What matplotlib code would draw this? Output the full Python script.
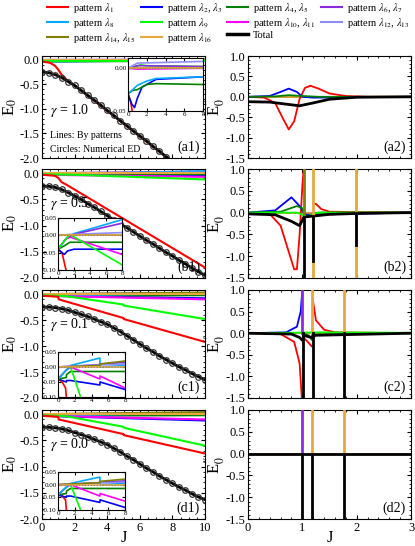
import matplotlib
matplotlib.use('Agg')
import matplotlib.pyplot as plt
import numpy as np

plt.rcParams['font.family'] = ['Liberation Serif', 'DejaVu Serif']
plt.rcParams['mathtext.fontset'] = 'stix'
plt.rcParams['font.size'] = 9

# ---- colours / legend ----
names = ['$\\lambda_1$', '$\\lambda_2$, $\\lambda_3$', '$\\lambda_4$, $\\lambda_5$', '$\\lambda_6$, $\\lambda_7$',
         '$\\lambda_8$', '$\\lambda_9$', '$\\lambda_{10}$, $\\lambda_{11}$', '$\\lambda_{12}$, $\\lambda_{13}$',
         '$\\lambda_{14}$, $\\lambda_{15}$', '$\\lambda_{16}$']
colors = ['#ff0000', '#0000ff', '#008000', '#8a2be2', '#00aaff', '#00ff00', '#ff00ff', '#8c8cff',
          '#808000', '#e6a83c']
gammas = ['1.0', '0.5', '0.1', '0.0']

# ---- left panels: total energy with ED circles ----
tot_J = [0, 0.4, 0.8, 1.2, 1.6, 2, 2.4, 2.8, 3.2, 3.6, 4, 4.4, 4.8, 5.2, 5.6, 6, 6.4, 6.8, 7.2, 7.6, 8,
         8.4, 8.8, 9.2, 9.6, 10]
tot_a = [-0.25, -0.26, -0.30, -0.36, -0.44, -0.52, -0.62, -0.72, -0.82, -0.92, -1.03, -1.13, -1.24, -1.34,
         -1.45, -1.55, -1.65, -1.76, -1.86, -1.97, -2.07, -2.17, -2.28, -2.38, -2.49, -2.59]
tot_b = [-0.25, -0.25, -0.27, -0.31, -0.37, -0.43, -0.50, -0.58, -0.65, -0.73, -0.81, -0.89, -0.97, -1.04,
         -1.12, -1.20, -1.28, -1.35, -1.43, -1.51, -1.58, -1.66, -1.73, -1.81, -1.88, -1.95]
tot_c = [-0.25, -0.25, -0.26, -0.28, -0.31, -0.35, -0.39, -0.43, -0.48, -0.53, -0.58, -0.65, -0.72, -0.80,
         -0.88, -0.96, -1.04, -1.11, -1.19, -1.26, -1.33, -1.40, -1.46, -1.53, -1.59, -1.65]
tot_d = [-0.25, -0.25, -0.26, -0.28, -0.31, -0.35, -0.39, -0.43, -0.48, -0.53, -0.58, -0.65, -0.72, -0.80,
         -0.87, -0.95, -1.03, -1.10, -1.18, -1.25, -1.32, -1.39, -1.45, -1.52, -1.58, -1.63]
totals = [tot_a, tot_b, tot_c, tot_d]

# red and bright-green patterns, left panels: (J, E)
red_left = [([0, 0.5, 0.8, 1.0, 1.2, 1.6, 2, 10], [-0.03, -0.06, -0.12, -0.2, -0.3, -0.43, -0.52, -2.6]),
            ([0, 0.8, 1.0, 1.2, 1.5, 10], [-0.03, -0.05, -0.09, -0.17, -0.22, -1.8]),
            ([0, 1, 1.02, 5, 5.02, 10], [-0.03, -0.05, -0.1, -0.46, -0.48, -0.92]),
            ([0, 1, 1.02, 5, 5.02, 10], [-0.03, -0.05, -0.1, -0.38, -0.40, -0.75])]
lime_left = [([0, 10], [-0.02, -0.02]),
             ([0, 2, 10], [-0.02, -0.03, -0.12]),
             ([0, 1.5, 5, 5.02, 10], [-0.02, -0.04, -0.2, -0.22, -0.48]),
             ([0, 1.5, 5, 5.02, 10], [-0.02, -0.04, -0.24, -0.26, -0.6])]
# other patterns, left panels: value at J=0 and J=10 (index = colour)
others_J = [0, 10]
others_left = [
    {1: [-0.03, -0.01], 2: [-0.03, -0.02], 3: [0.0, 0.0], 4: [-0.03, -0.01], 6: [0.0, 0.0], 7: [0.0, 0.01], 8: [0.0, 0.0], 9: [0.0, 0.0]},
    {1: [-0.03, -0.04], 2: [-0.03, -0.02], 3: [0.0, 0.03], 4: [-0.03, 0.04], 6: [-0.03, -0.07], 7: [0.0, 0.01], 8: [0.0, 0.0], 9: [0.0, 0.0]},
    {1: [-0.03, -0.08], 2: [-0.03, -0.02], 3: [0.0, 0.02], 4: [-0.03, 0.02], 6: [-0.03, -0.10], 7: [0.0, 0.01], 8: [0.0, 0.03], 9: [0.0, 0.0]},
    {1: [-0.03, -0.12], 2: [-0.03, -0.02], 3: [0.0, 0.02], 4: [-0.03, 0.03], 6: [-0.03, -0.10], 7: [0.0, 0.01], 8: [0.0, 0.04], 9: [0.0, 0.0]},
]

# insets: colour index -> (J, E)
inset_a = {0: ([0, 0.3, 0.6], [-0.03, -0.04, -0.06]),
           1: ([0, 0.4, 0.7, 1.0, 1.5, 3, 8], [-0.03, -0.042, -0.046, -0.035, -0.022, -0.013, -0.01]),
           2: ([0, 0.5, 1, 2, 3, 8], [-0.03, -0.026, -0.025, -0.019, -0.018, -0.019]),
           4: ([0, 0.5, 1, 2, 3, 8], [-0.03, -0.025, -0.02, -0.015, -0.012, -0.01]),
           5: ([0, 0.8, 1.3, 2, 8], [0.0, 0.002, 0.004, 0.003, 0.002]),
           3: ([0, 1, 8], [0.0, 0.003, 0.002]),
           7: ([0, 1, 8], [0.0, 0.006, 0.008]),
           6: ([0, 1, 8], [0.0, -0.001, 0.0]),
           8: ([0, 8], [0.0, 0.0]), 9: ([0, 8], [0.0, 0.0])}
inset_b = {0: ([0, 0.5, 0.8, 1.0], [-0.04, -0.05, -0.08, -0.1]),
           1: ([0, 0.5, 0.8, 1.2, 2, 8], [-0.04, -0.05, -0.055, -0.045, -0.04, -0.04]),
           2: ([0, 0.8, 1.5, 2, 8], [-0.04, -0.03, -0.02, -0.02, -0.02]),
           4: ([0, 1, 2, 8], [-0.04, -0.01, 0.005, 0.045]),
           3: ([0, 1, 2, 8], [-0.04, -0.01, 0.003, 0.035]),
           6: ([0, 1, 1.5, 8], [-0.04, -0.01, -0.005, -0.055]),
           5: ([0, 1, 1.5, 8], [-0.04, -0.01, 0.002, -0.085]),
           7: ([0, 1, 8], [0.0, 0.002, 0.008]),
           8: ([0, 8], [0.0, 0.0]), 9: ([0, 8], [0.0, 0.0])}
inset_c = {0: ([0, 0.5, 0.9, 1.0], [-0.04, -0.05, -0.07, -0.1]),
           1: ([0, 1, 1.02, 1.5, 5, 5.02, 8], [-0.04, -0.05, -0.045, -0.045, -0.06, -0.05, -0.075]),
           2: ([0, 1, 1.02, 1.5, 8], [-0.04, -0.035, -0.025, -0.015, -0.015]),
           5: ([0, 1, 1.5, 2.7], [-0.04, -0.01, 0.0, -0.1]),
           6: ([0, 1, 1.5, 5, 5.02, 8], [-0.04, -0.01, 0.0, -0.04, -0.03, -0.07]),
           4: ([0, 1, 1.5, 5, 5.02, 8], [-0.04, -0.01, 0.005, 0.03, 0.0, 0.005]),
           3: ([0, 1.5, 5, 5.02, 8], [0.0, 0.002, 0.008, 0.01, 0.015]),
           7: ([0, 1.5, 8], [0.0, 0.003, 0.01]),
           8: ([0, 5, 5.02, 8], [0.0, 0.005, 0.01, 0.02]),
           9: ([0, 8], [0.0, 0.0])}
inset_d = {0: ([0, 0.5, 0.9, 1.0], [-0.04, -0.045, -0.06, -0.1]),
           1: ([0, 1, 1.02, 1.5, 5, 5.02, 8], [-0.04, -0.05, -0.045, -0.045, -0.07, -0.06, -0.09]),
           2: ([0, 1, 1.02, 1.5, 8], [-0.04, -0.035, -0.025, -0.015, -0.015]),
           5: ([0, 1, 1.5, 2.7], [-0.04, -0.01, 0.0, -0.1]),
           6: ([0, 1, 1.5, 5, 5.02, 8], [-0.04, -0.01, 0.0, -0.045, -0.035, -0.065]),
           4: ([0, 1, 1.5, 5, 5.02, 8], [-0.04, -0.01, 0.005, 0.03, 0.0, 0.005]),
           3: ([0, 1.5, 5, 5.02, 8], [0.0, 0.002, 0.008, 0.01, 0.015]),
           7: ([0, 1.5, 8], [0.0, 0.003, 0.01]),
           8: ([0, 5, 5.02, 8], [0.0, 0.008, 0.013, 0.022]),
           9: ([0, 8], [0.0, 0.0])}
insets = [inset_a, inset_b, inset_c, inset_d]
inset_ylims = [(-0.05, 0.012), (-0.1, 0.05), (-0.1, 0.05), (-0.1, 0.05)]
inset_yticks = [[-0.05, 0.0], [-0.1, -0.05, 0.0, 0.05], [-0.1, -0.05, 0.0, 0.05], [-0.1, -0.05, 0.0, 0.05]]

# ---- right panels: second derivative ----
right_curves = [
    {0: [([0, 0.3, 0.5, 0.65, 0.75, 0.85, 0.95, 1.05, 1.15, 1.3, 1.5, 1.8, 2.2, 3],
          [0, -0.02, -0.15, -0.55, -0.8, -0.6, -0.05, 0.22, 0.27, 0.2, 0.08, 0.02, 0, 0])],
     1: [([0, 0.4, 0.6, 0.75, 0.9, 1.0, 1.2, 3], [0, 0.02, 0.12, 0.2, 0.12, 0, -0.02, 0])],
     2: [([0, 0.5, 0.75, 1.0, 1.3, 3], [0, 0.01, 0.04, 0.02, 0, 0])],
     'k': [([0, 0.4, 0.7, 0.95, 1.2, 1.5, 2, 3], [-0.12, -0.13, -0.18, -0.22, -0.15, -0.06, -0.01, 0])]},
    {0: [([0, 0.4, 0.6, 0.75, 0.85, 0.9, 0.95, 1.0, 1.02], [0, -0.03, -0.3, -0.9, -1.3, -1.3, -0.5, 0.6, 0.93]),
         ([1.2, 1.25, 1.35, 1.5, 3], [0.2, 0.2, 0.08, 0.02, 0])],
     1: [([0, 0.5, 0.8, 0.95, 1.05, 3], [0, 0.05, 0.35, 0.15, -0.05, 0])],
     2: [([0, 0.6, 0.9, 1.0, 1.05, 1.3, 3], [0, 0.02, 0.15, 0.1, -0.1, 0, 0])],
     5: [([0, 0.9, 1.0, 1.05, 1.3, 3], [0, 0, -0.05, -0.1, 0, 0])],
     'k': [([0, 0.5, 0.8, 0.95, 1.03, 1.2, 1.5, 2, 3], [-0.03, -0.05, -0.2, -0.3, -0.1, -0.08, -0.04, -0.02, 0])]},
    {0: [([0, 0.6, 0.85, 0.95, 0.99], [0, -0.02, -0.2, -0.7, -1.5]),
         ([1.02, 1.1, 1.17], [-0.1, -0.2, -0.3]),
         ([1.19, 1.25, 1.4, 1.6, 3], [0.8, 0.3, 0.08, 0.02, 0])],
     1: [([0, 0.7, 0.9, 0.97, 1.0], [0, 0.02, 0.15, 0.5, 1.0])],
     2: [([1.02, 1.12, 1.17], [0, -0.05, -0.15]), ([1.19, 1.25, 3], [-0.15, -0.03, 0])],
     5: [([0, 1.3, 3], [0, 0.02, 0.01])],
     'k': [([0, 0.8, 0.95, 0.99], [0, -0.02, -0.1, -0.15]), ([1.02, 1.17], [-0.05, -0.1]), ([1.19, 3], [-0.05, 0])]},
    {'k': [([0, 3], [0, 0])]},
]
# vertical spikes: (J, colour index, y-from, y-to)
spikes = [
    [],
    [(1.03, 8, -0.05, 1.0), (1.2, 9, -1.5, 1.0), (1.98, 9, -1.5, 1.0),
     (1.03, 'k', -0.1, -1.5), (1.2, 'k', -0.08, -1.1), (1.98, 'k', -0.02, -0.75)],
    [(1.0, 3, 0, 1.0), (1.18, 9, 0, 1.0), (1.76, 9, 0, 1.0),
     (1.01, 'k', 0, -1.5), (1.19, 'k', 0, -1.5), (1.76, 'k', 0, -1.5)],
    [(1.0, 3, 0, 1.0), (1.18, 9, 0, 1.0), (1.76, 9, 0, 1.0),
     (1.0, 'k', 0, -1.5), (1.18, 'k', 0, -1.5), (1.76, 'k', 0, -1.5)],
]

W, H = 415, 546
fig = plt.figure(figsize=(W / 100, H / 100), dpi=100)

rows = [(56, 158), (169, 278), (290, 398), (410, 519)]
inset_boxes = [(128, 58, 203, 111), (58, 218, 122, 270), (58, 352, 125, 397), (58, 472, 125, 510)]
letters = 'abcd'


def ax_at(x0, y0, x1, y1):
    return fig.add_axes([x0 / W, 1 - y1 / H, (x1 - x0) / W, (y1 - y0) / H])


def style(ax):
    ax.tick_params(direction='in', top=True, right=True, which='both', labelsize=9, length=3, pad=2)
    ax.minorticks_on()
    ax.tick_params(which='minor', length=1.5)


for i, (y0, y1) in enumerate(rows):
    # left
    ax = ax_at(42, y0, 205, y1)
    for c, pts in others_left[i].items():
        ax.plot(others_J, pts, color=colors[c], lw=1.5)
    ax.plot(*lime_left[i], color=colors[5], lw=1.5)
    ax.plot(*red_left[i], color=colors[0], lw=1.5)
    ax.plot(tot_J, totals[i], color='black', lw=2, marker='o', ms=4, mfc='none', mec='#333333', mew=0.9)
    ax.set_xlim(0, 10)
    ax.set_ylim(-2, 0.08)
    ax.set_yticks([-2, -1.5, -1, -0.5, 0])
    ax.set_yticklabels(['-2.0', '-1.5', '-1.0', '-0.5', '0.0'])
    ax.set_xticks([0, 2, 4, 6, 8, 10])
    style(ax)
    ax.set_ylabel('E$_0$', fontsize=12, labelpad=0)
    if i < 3:
        ax.set_xticklabels([])
    else:
        ax.set_xlabel('J', fontsize=12, labelpad=-3)
    ax.text(0.97, 0.04, '(%s1)' % letters[i], transform=ax.transAxes, ha='right', va='bottom', fontsize=10)
    gy = 0.43 if i == 0 else 0.65
    ax.text(0.05, gy, '$\\gamma$ = %s' % gammas[i], transform=ax.transAxes, fontsize=10)
    if i == 0:
        ax.text(0.05, 0.2, 'Lines: By patterns', transform=ax.transAxes, fontsize=7)
        ax.text(0.05, 0.06, 'Circles: Numerical ED', transform=ax.transAxes, fontsize=7)

    # inset
    bx = inset_boxes[i]
    ia = ax_at(*bx)
    for c, (jj, ee) in insets[i].items():
        ia.plot(jj, ee, color=colors[c], lw=1.2)
    ia.axhline(0, color='gray', ls=':', lw=0.8)
    ia.set_xlim(0, 8)
    ia.set_ylim(*inset_ylims[i])
    ia.set_xticks([0, 2, 4, 6, 8])
    ia.set_yticks(inset_yticks[i])
    ia.set_yticklabels(['%.2f' % v for v in inset_yticks[i]])
    ia.tick_params(direction='in', labelsize=5, length=2, pad=1, top=True, right=True)

    # right
    ar = ax_at(248, y0, 411, y1)
    for key, segs in right_curves[i].items():
        col = 'black' if key == 'k' else colors[key]
        for jj, ee in segs:
            ar.plot(jj, ee, color=col, lw=2 if key == 'k' else 1.3, zorder=3 if key == 'k' else 2)
    for c in [3, 4, 6, 7, 8, 9]:
        ar.plot([0, 3], [0, 0], color=colors[c], lw=1.2, zorder=1)
    for x, c, ya, yb in spikes[i]:
        col = 'black' if c == 'k' else colors[c]
        ar.plot([x, x], [ya, yb], color=col, lw=2, zorder=4)
    ar.set_xlim(0, 3)
    ar.set_ylim(-1.5, 1)
    ar.set_yticks([-1.5, -1, -0.5, 0, 0.5, 1])
    ar.set_yticklabels(['-1.5', '-1.0', '-0.5', '0.0', '0.5', '1.0'])
    ar.set_xticks([0, 1, 2, 3])
    style(ar)
    ar.set_ylabel("E$_0''$", fontsize=12, labelpad=-1)
    if i < 3:
        ar.set_xticklabels([])
    else:
        ar.set_xlabel('J', fontsize=12, labelpad=-3)
    ar.text(0.97, 0.04, '(%s2)' % letters[i], transform=ar.transAxes, ha='right', va='bottom', fontsize=10)

# legend (row-wise order in 4 columns)
handles = [plt.Line2D([], [], color=c, lw=1.5) for c in colors] + [plt.Line2D([], [], color='black', lw=2.5)]
labels = ['pattern ' + n for n in names] + ['Total']
order = [0, 4, 8, 1, 5, 9, 2, 6, 10, 3, 7]
fig.legend([handles[k] for k in order], [labels[k] for k in order], ncol=4, loc='upper left',
           bbox_to_anchor=(0.095, 1.012), frameon=False, fontsize=7.5, handlelength=2.0,
           columnspacing=0.5, labelspacing=0.1, handletextpad=0.5, borderpad=0.2)

fig.savefig('out.png', dpi=100)
